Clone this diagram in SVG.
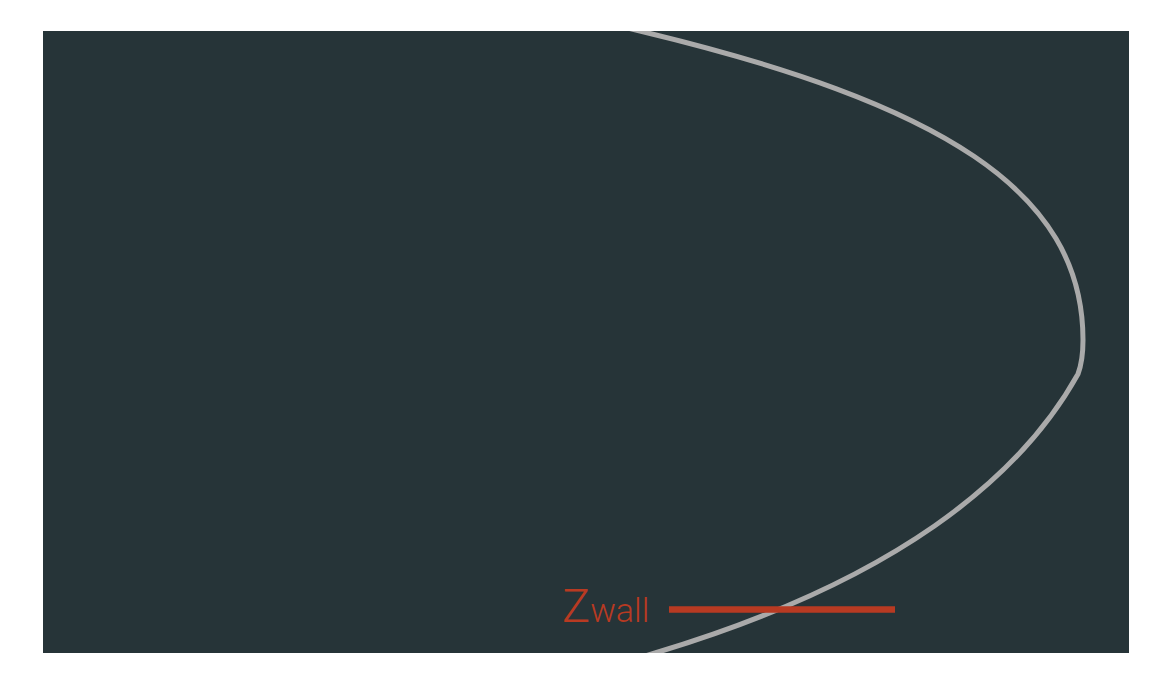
<svg xmlns="http://www.w3.org/2000/svg" width="1160" height="688" viewBox="0 0 1160 688">
<style>
.bg{fill:#263438}
.curve{fill:none;stroke:#aaaaaa;stroke-width:5;stroke-linejoin:round}
.wall{stroke:#b83a22;stroke-width:6.5}
.lbl{fill:#b83a22;font-family:Roboto,"Liberation Sans",sans-serif;font-weight:300}
</style>
<defs>
<clipPath id="panel"><rect x="43" y="31" width="1086" height="622"/></clipPath>
</defs>
<rect width="1160" height="688" fill="#ffffff"/>
<rect id="panel-bg" class="bg" x="43" y="31" width="1086" height="622"/>
<g id="connectors" clip-path="url(#panel)">
<path id="boundary" class="curve" d="M560,11.8 L640,31 C940,103 1083,190 1083,340 C1083,355 1081,366 1078,374 C1019.7,478.9 894.5,581.3 655,653 L600,669.5"/>
</g>
<g id="zwall">
<line class="wall" x1="669" y1="609.5" x2="895" y2="609.5"/>
<text class="lbl" x="562" y="622"><tspan font-size="47">Z</tspan><tspan font-size="34">wall</tspan></text>
</g>
</svg>
